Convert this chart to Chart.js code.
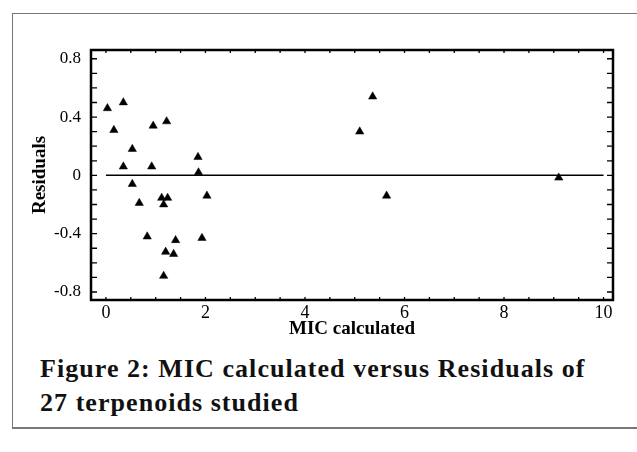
<!DOCTYPE html>
<html>
<head>
<meta charset="utf-8">
<script src="https://cdn.jsdelivr.net/npm/chart.js@4.4.1/dist/chart.umd.min.js"></script>
<style>
  html, body { margin: 0; padding: 0; background: #fff; }
  body { width: 637px; height: 452px; position: relative; overflow: hidden; }
  .frame {
    position: absolute; left: 12px; top: 13px; width: 640px; height: 413px;
    border-left: 1px solid #777; border-top: 1px solid #777; border-bottom: 2px solid #777;
  }
  .chart-box { position: absolute; left: 0; top: 0; width: 637px; height: 340px; }
  .caption {
    position: absolute; left: 40px; top: 352px; width: 595px;
    font-family: "Liberation Serif", serif; font-weight: bold; font-size: 26px;
    letter-spacing: 1.05px; line-height: 34px; color: #111; white-space: nowrap;
  }
</style>
</head>
<body>
<div class="frame"></div>
<div class="chart-box"><canvas id="chart" width="637" height="340"></canvas></div>
<div class="caption">Figure 2: MIC calculated versus Residuals of<br>27 terpenoids studied</div>

<script>
// Values
const MIC_CALC = [
  0.03, 0.35, 0.16, 0.95, 1.22, 0.53, 0.35, 0.92, 1.85, 1.86, 0.53,
  0.67, 1.12, 1.24, 1.16, 2.03, 0.83, 1.40, 1.93, 1.20, 1.36, 1.16,
  5.10, 5.36, 5.64, 9.10
];
const RESIDUALS = [
  0.46, 0.50, 0.31, 0.34, 0.37, 0.18, 0.06, 0.06, 0.125, 0.02, -0.06,
  -0.19, -0.155, -0.155, -0.20, -0.14, -0.42, -0.445, -0.43, -0.525, -0.54, -0.69,
  0.30, 0.54, -0.14, -0.016
];
const X_TICKS = [0, 2, 4, 6, 8, 10];
const Y_TICKS = [-0.8, -0.4, 0, 0.4, 0.8];
const ZERO_LINE_X = [0, 10];

const points = MIC_CALC.map((x, i) => ({ x, y: RESIDUALS[i] }));
const zeroLine = ZERO_LINE_X.map(x => ({ x, y: 0 }));

// Frame around the plot plus short inward ticks on all four sides
const frameTicks = {
  id: 'frameTicks',
  afterDatasetsDraw(chart) {
    const { ctx, chartArea: a, scales: { x, y } } = chart;
    ctx.save();
    ctx.strokeStyle = '#000';
    ctx.lineWidth = 1.3;
    ctx.beginPath();
    for (let i = 0; i <= 20; i++) {
      const px = x.getPixelForValue(i * 0.5);
      ctx.moveTo(px, a.bottom); ctx.lineTo(px, a.bottom - 3);
      ctx.moveTo(px, a.top);    ctx.lineTo(px, a.top + 3);
    }
    for (let i = -8; i <= 8; i++) {
      const py = y.getPixelForValue(i / 10);
      ctx.moveTo(a.left, py);  ctx.lineTo(a.left + 6, py);
      ctx.moveTo(a.right, py); ctx.lineTo(a.right - 6, py);
    }
    ctx.stroke();
    ctx.lineWidth = 2.5;
    ctx.strokeRect(a.left, a.top, a.right - a.left, a.bottom - a.top);
    ctx.restore();
  }
};

new Chart(document.getElementById('chart'), {
  type: 'scatter',
  data: {
    datasets: [
      {
        type: 'line',
        data: zeroLine,
        borderColor: '#000',
        borderWidth: 1.5,
        pointRadius: 0,
        fill: false,
      },
      {
        data: points,
        pointStyle: 'triangle',
        pointRadius: 4.8,
        backgroundColor: '#000',
        borderColor: '#000',
        borderWidth: 0.5,
      },
    ],
  },
  options: {
    responsive: false,
    animation: false,
    layout: { padding: { top: 50, right: 24, left: 29, bottom: 0 } },
    plugins: { legend: { display: false }, tooltip: { enabled: false } },
    scales: {
      x: {
        type: 'linear',
        min: -0.3,
        max: 10.19,
        afterBuildTicks: s => { s.ticks = X_TICKS.map(v => ({ value: v })); },
        afterFit: s => { s.height = 40; },
        grid: { display: false, drawTicks: false },
        border: { display: false },
        ticks: {
          color: '#000', padding: 2, maxRotation: 0,
          font: { family: 'Liberation Serif', size: 18 },
        },
        title: {
          display: true, text: 'MIC calculated', color: '#000', padding: { top: 0, bottom: 0 },
          font: { family: 'Liberation Serif', size: 19, weight: 'bold' },
        },
      },
      y: {
        min: -0.855,
        max: 0.86,
        afterBuildTicks: s => { s.ticks = Y_TICKS.map(v => ({ value: v })); },
        afterFit: s => { s.width = 62; },
        grid: { display: false, drawTicks: false },
        border: { display: false },
        ticks: {
          color: '#000', padding: 10,
          font: { family: 'Liberation Serif', size: 17 },
          callback: v => String(v),
        },
        title: {
          display: true, text: 'Residuals', color: '#000', padding: { top: 0, bottom: 4 },
          font: { family: 'Liberation Serif', size: 19, weight: 'bold' },
        },
      },
    },
  },
  plugins: [frameTicks],
});
</script>
</body>
</html>
